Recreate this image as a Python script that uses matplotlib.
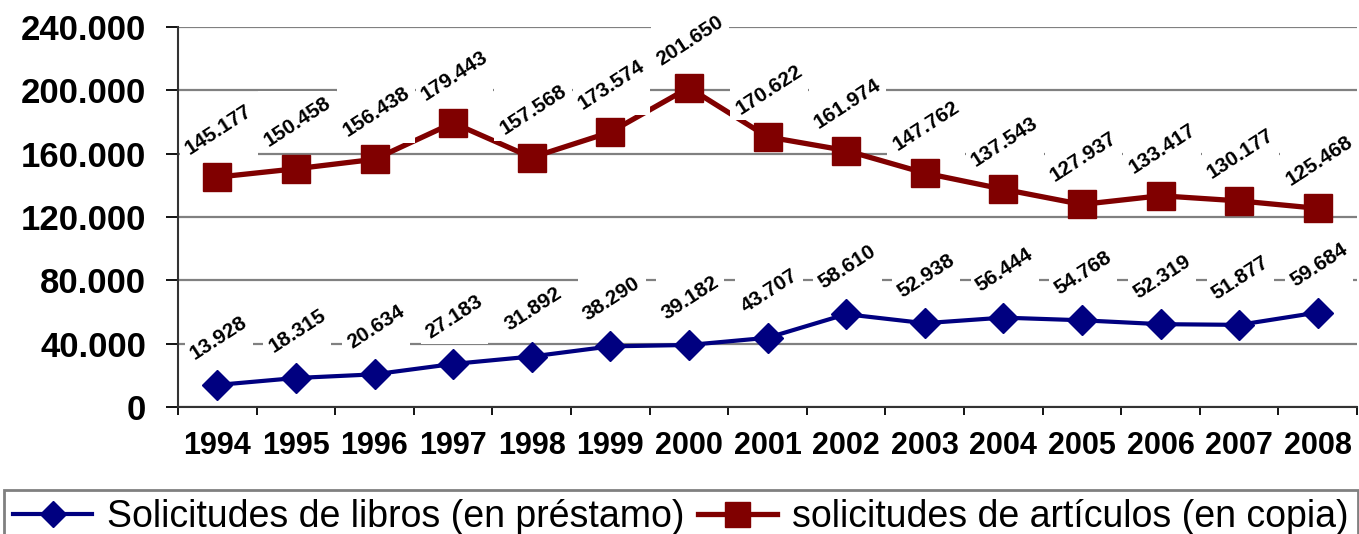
import numpy as np
import matplotlib
matplotlib.use("Agg")
import matplotlib.pyplot as plt
from matplotlib.patches import Rectangle
from matplotlib.transforms import IdentityTransform

plt.rcParams['font.family'] = ['Liberation Sans', 'DejaVu Sans']

# data
years = ['1994', '1995', '1996', '1997', '1998', '1999', '2000', '2001',
         '2002', '2003', '2004', '2005', '2006', '2007', '2008']
libros = [13928, 18315, 20634, 27183, 31892, 38290, 39182, 43707,
          58610, 52938, 56444, 54768, 52319, 51877, 59684]
articulos = [145177, 150458, 156438, 179443, 157568, 173574, 201650, 170622,
             161974, 147762, 137543, 127937, 133417, 130177, 125468]
yticks = [0, 40000, 80000, 120000, 160000, 200000, 240000]

label_libros = 'Solicitudes de libros (en préstamo)'
label_articulos = 'solicitudes de artículos (en copia)'


def fmt(v):
    return f"{v:,}".replace(",", ".")


W, H = 1359, 534
fig = plt.figure(figsize=(W / 100, H / 100), dpi=100)
ax = fig.add_axes([178 / W, 1 - 407 / H, (1357 - 178) / W, (407 - 27) / H])

x = np.arange(len(years))
ax.plot(x, libros, color='#000080', lw=3, marker='D', ms=15, zorder=3,
        label=label_libros)
ax.plot(x, articulos, color='#800000', lw=3.8, marker='s', ms=20, zorder=3,
        label=label_articulos)

ax.set_xlim(-0.5, len(years) - 0.5)
ax.set_ylim(0, 240000)
ax.set_yticks(yticks, [fmt(v) for v in yticks])
ax.set_xticks(x, years)
ax.set_xticks(np.arange(-0.5, len(years), 1), minor=True)
ax.tick_params(axis='x', which='major', length=0, pad=17, labelsize=22)
ax.tick_params(axis='x', which='minor', length=6, width=1.3, direction='out')
ax.tick_params(axis='y', length=9, width=1.3, pad=14, labelsize=25)
for lab in ax.get_xticklabels() + ax.get_yticklabels():
    lab.set_fontweight('bold')

ax.yaxis.grid(True, color='#808080', lw=1.6, zorder=0)
ax.set_axisbelow(True)
for s in ['top', 'right']:
    ax.spines[s].set_visible(False)
for s in ['left', 'bottom']:
    ax.spines[s].set_linewidth(1.5)
    ax.spines[s].set_color('#333333')

# data labels
texts = []
for series in (libros, articulos):
    for xi, v in zip(x, series):
        t = ax.annotate(fmt(v), (xi, v), xytext=(1, 34), textcoords='offset points',
                        ha='center', va='center', rotation=33, fontsize=15,
                        fontweight='bold', color='black', zorder=6)
        texts.append(t)

leg = fig.legend(loc='upper left', bbox_to_anchor=(4 / W, 1 - 490 / H),
                 ncol=2, fontsize=27, frameon=True, fancybox=False,
                 edgecolor='#808080', framealpha=1, borderpad=0.25,
                 handlelength=2.1, handletextpad=0.4, columnspacing=0.35,
                 borderaxespad=0, markerscale=0.9)
leg.get_frame().set_linewidth(2)

# white axis-aligned boxes behind the labels, like the original
fig.canvas.draw()
for t in texts:
    bb = t.get_window_extent()
    r = Rectangle((bb.x0 - 2, bb.y0 - 2), bb.width + 4, bb.height + 4,
                  transform=IdentityTransform(), facecolor='white',
                  edgecolor='none', zorder=5)
    ax.add_artist(r)

fig.savefig('out.png', dpi=100)
